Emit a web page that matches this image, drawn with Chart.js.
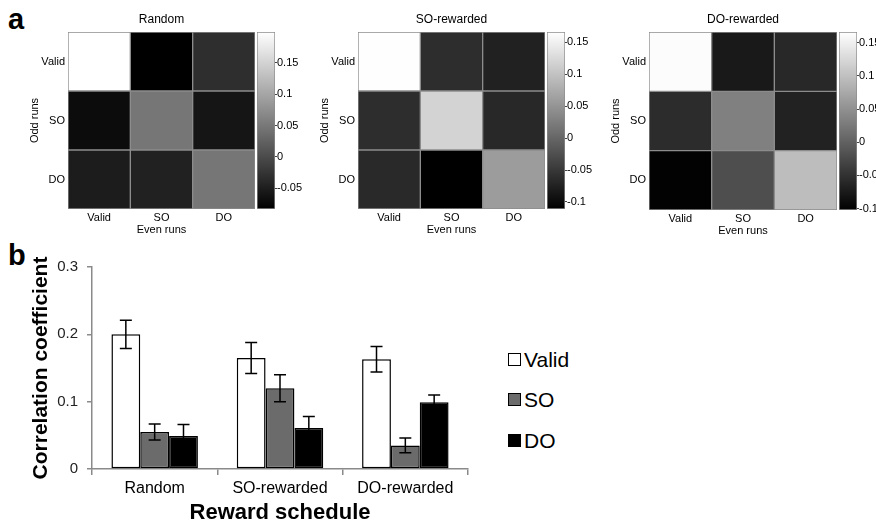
<!DOCTYPE html>
<html>
<head>
<meta charset="utf-8">
<script src="https://cdn.jsdelivr.net/npm/chart.js@4.4.0/dist/chart.umd.min.js"></script>
<style>
    body { margin: 0; background: #fff; font-family: "Liberation Sans", Arial, sans-serif; }
    #page { position: relative; width: 876px; height: 530px; overflow: hidden; background: #fff; }
    canvas { position: absolute; }
    .panel-label { position: absolute; font-weight: bold; font-size: 29px; line-height: 1; color: #000; }
    .legend-item { position: absolute; left: 508px; height: 22px; font-size: 21px; line-height: 22px; color: #000; }
    .legend-item span { display: inline-block; width: 11px; height: 11px; border: 1.5px solid #000; margin-right: 3px; vertical-align: 1px; }
</style>
</head>
<body>
<div id="page">
    <div class="panel-label" style="left:8px; top:5px;">a</div>
    <div class="panel-label" style="left:8px; top:241px;">b</div>

    <canvas id="heatRandom" width="257" height="245" style="left:0px; top:0px;"></canvas>
    <canvas id="barRandom" width="50" height="245" style="left:256px; top:0px;"></canvas>
    <canvas id="heatSO" width="257" height="245" style="left:290px; top:0px;"></canvas>
    <canvas id="barSO" width="50" height="245" style="left:546px; top:0px;"></canvas>
    <canvas id="heatDO" width="258" height="246" style="left:581px; top:0px;"></canvas>
    <canvas id="barDO" width="50" height="246" style="left:838px; top:0px;"></canvas>

    <canvas id="summaryChart" width="480" height="290" style="left:0px; top:240px;"></canvas>

    <div class="legend-item" style="top:349px;"><span style="background:#fff;"></span>Valid</div>
    <div class="legend-item" style="top:389px;"><span style="background:#6b6b6b;"></span>SO</div>
    <div class="legend-item" style="top:430px;"><span style="background:#000;"></span>DO</div>
</div>

<script>
// Matrix labels (rows = odd runs, columns = even runs)
const rowLabels = ['Valid', 'SO', 'DO'];
const colLabels = ['Valid', 'SO', 'DO'];

// Correlation matrices
const randomMatrix = [
    [0.200, -0.083, -0.032],
    [-0.070, 0.047, -0.060],
    [-0.052, -0.046, 0.047]
];
const soMatrix = [
    [0.165, -0.062, -0.075],
    [-0.062, 0.118, -0.068],
    [-0.066, -0.111, 0.058]
];
const doMatrix = [
    [0.163, -0.076, -0.060],
    [-0.056, 0.032, -0.066],
    [-0.100, -0.020, 0.097]
];

// Colorbar limits
const randomRange = [-0.083, 0.199];
const soRange = [-0.111, 0.166];
const doRange = [-0.102, 0.166];

// Bar chart data
const schedules = ['Random', 'SO-rewarded', 'DO-rewarded'];
const validMeans = [0.200, 0.165, 0.163];
const soMeans = [0.055, 0.120, 0.035];
const doMeans = [0.049, 0.061, 0.099];
const validErr = [0.021, 0.023, 0.019];
const soErr = [0.012, 0.020, 0.011];
const doErr = [0.017, 0.017, 0.011];
const yTicks = [0, 0.1, 0.2, 0.3];

const FONT = '"Liberation Sans", Arial, sans-serif';

function grayFor(v, range) {
    let t = (v - range[0]) / (range[1] - range[0]);
    t = Math.max(0, Math.min(1, t));
    const g = Math.round(t * 255);
    return `rgb(${g},${g},${g})`;
}

function fmt(v) {
    const s = String(+v.toFixed(2));
    return s === '-0' ? '0' : s;
}

// Heatmap: stacked unit bars, one dataset per row
function makeHeatmap(id, title, matrix, range) {
    const datasets = [2, 1, 0].map(r => ({
        label: rowLabels[r],
        data: colLabels.map(() => 1),
        backgroundColor: matrix[r].map(v => grayFor(v, range)),
        borderColor: '#8c8c8c',
        borderWidth: 1,
        borderSkipped: false,
        xAxisID: 'x',
        yAxisID: 'y',
        stack: 'm'
    }));

    new Chart(document.getElementById(id), {
        type: 'bar',
        data: { labels: colLabels, datasets: datasets },
        options: {
            responsive: false,
            animation: false,
            events: [],
            layout: { padding: { left: 0, right: 2, top: 0, bottom: 0 } },
            datasets: { bar: { barPercentage: 1, categoryPercentage: 1 } },
            plugins: { legend: { display: false }, tooltip: { enabled: false } },
            scales: {
                x: {
                    stacked: true,
                    grid: { display: false, drawTicks: false },
                    border: { display: false },
                    ticks: { color: '#000', font: { family: FONT, size: 11 }, padding: 2 },
                    title: { display: true, text: 'Even runs', color: '#000', font: { family: FONT, size: 11 }, padding: { top: 0, bottom: 8 } },
                    afterFit: s => { s.height = 36; }
                },
                xTop: {
                    type: 'linear',
                    axis: 'x',
                    position: 'top',
                    grid: { display: false, drawTicks: false },
                    border: { display: false },
                    ticks: { display: false },
                    title: { display: true, text: title, color: '#000', font: { family: FONT, size: 12 }, padding: { top: 12, bottom: 0 } },
                    afterFit: s => { s.height = 32; }
                },
                y: {
                    stacked: true,
                    min: 0,
                    max: 3,
                    afterBuildTicks: s => { s.ticks = [0.5, 1.5, 2.5].map(v => ({ value: v })); },
                    grid: { display: false, drawTicks: false },
                    border: { display: false },
                    ticks: {
                        color: '#000',
                        font: { family: FONT, size: 11 },
                        padding: 3,
                        callback: v => rowLabels[2 - Math.floor(v)]
                    },
                    title: { display: true, text: 'Odd runs', color: '#000', font: { family: FONT, size: 11 }, padding: { top: 28, bottom: 0 } },
                    afterFit: s => { s.width = 68; }
                }
            }
        }
    });
}

// Colorbar: one floating bar spanning the range, gradient fill
function makeColorbar(id, range) {
    new Chart(document.getElementById(id), {
        type: 'bar',
        data: {
            labels: [''],
            datasets: [{
                data: [range],
                backgroundColor: ctx => {
                    const area = ctx.chart.chartArea;
                    if (!area) return '#808080';
                    const g = ctx.chart.ctx.createLinearGradient(0, area.bottom, 0, area.top);
                    g.addColorStop(0, '#000');
                    g.addColorStop(1, '#fff');
                    return g;
                },
                borderColor: '#8c8c8c',
                borderWidth: 1,
                borderSkipped: false
            }]
        },
        options: {
            responsive: false,
            animation: false,
            events: [],
            layout: { padding: { left: 1, right: 0, top: 32, bottom: 36 } },
            datasets: { bar: { barPercentage: 1, categoryPercentage: 1 } },
            plugins: { legend: { display: false }, tooltip: { enabled: false } },
            scales: {
                x: { display: false },
                y: {
                    position: 'right',
                    min: range[0],
                    max: range[1],
                    grid: { drawOnChartArea: false, drawTicks: true, tickLength: 2, color: '#444' },
                    border: { display: false },
                    ticks: {
                        stepSize: 0.05,
                        includeBounds: false,
                        color: '#000',
                        font: { family: FONT, size: 11 },
                        padding: 0,
                        callback: v => fmt(v)
                    },
                    afterFit: s => { s.width = 31; }
                }
            }
        }
    });
}

makeHeatmap('heatRandom', 'Random', randomMatrix, randomRange);
makeColorbar('barRandom', randomRange);
makeHeatmap('heatSO', 'SO-rewarded', soMatrix, soRange);
makeColorbar('barSO', soRange);
makeHeatmap('heatDO', 'DO-rewarded', doMatrix, doRange);
makeColorbar('barDO', doRange);

// Error bars drawn from the scales
const errorBars = {
    id: 'errorBars',
    afterDatasetsDraw(chart) {
        const ctx = chart.ctx;
        const yScale = chart.scales.y;
        ctx.save();
        ctx.strokeStyle = '#000';
        ctx.lineWidth = 1.5;
        chart.data.datasets.forEach((ds, i) => {
            const meta = chart.getDatasetMeta(i);
            meta.data.forEach((bar, j) => {
                const top = yScale.getPixelForValue(ds.data[j] + ds.errors[j]);
                const bottom = yScale.getPixelForValue(ds.data[j] - ds.errors[j]);
                const cap = 6;
                ctx.beginPath();
                ctx.moveTo(bar.x, top);
                ctx.lineTo(bar.x, bottom);
                ctx.moveTo(bar.x - cap, top);
                ctx.lineTo(bar.x + cap, top);
                ctx.moveTo(bar.x - cap, bottom);
                ctx.lineTo(bar.x + cap, bottom);
                ctx.stroke();
            });
        });
        ctx.restore();
    }
};

new Chart(document.getElementById('summaryChart'), {
    type: 'bar',
    data: {
        labels: schedules,
        datasets: [
            { label: 'Valid', data: validMeans, errors: validErr, backgroundColor: '#fff' },
            { label: 'SO', data: soMeans, errors: soErr, backgroundColor: '#6b6b6b' },
            { label: 'DO', data: doMeans, errors: doErr, backgroundColor: '#000' }
        ]
    },
    options: {
        responsive: false,
        animation: false,
        events: [],
        layout: { padding: { left: 0, right: 12, top: 27, bottom: 0 } },
        datasets: {
            bar: {
                barPercentage: 1,
                categoryPercentage: 0.69,
                borderColor: '#000',
                borderWidth: 1.5,
                borderSkipped: false
            }
        },
        plugins: { legend: { display: false }, tooltip: { enabled: false } },
        scales: {
            x: {
                grid: { drawOnChartArea: false, drawTicks: true, tickLength: 6, color: '#8a8a8a', lineWidth: 1.5 },
                border: { display: true, color: '#8a8a8a', width: 1.5 },
                ticks: { color: '#000', font: { family: FONT, size: 16 }, padding: 4 },
                title: { display: true, text: 'Reward schedule', color: '#000', font: { family: FONT, size: 22, weight: 'bold', lineHeight: 1 }, padding: { top: 0, bottom: 6 } },
                afterFit: s => { s.height = 61; }
            },
            y: {
                min: 0,
                max: 0.3,
                afterBuildTicks: s => { s.ticks = yTicks.map(v => ({ value: v })); },
                grid: { drawOnChartArea: false, drawTicks: true, tickLength: 5, color: '#8a8a8a', lineWidth: 1.5 },
                border: { display: true, color: '#8a8a8a', width: 1.5 },
                ticks: { color: '#222', font: { family: FONT, size: 15 }, padding: 9, callback: v => fmt(v) },
                title: { display: true, text: 'Correlation coefficient', color: '#000', font: { family: FONT, size: 21, weight: 'bold' }, padding: { top: 29, bottom: 0 } },
                afterFit: s => { s.width = 92; }
            }
        }
    },
    plugins: [errorBars]
});
</script>
</body>
</html>
